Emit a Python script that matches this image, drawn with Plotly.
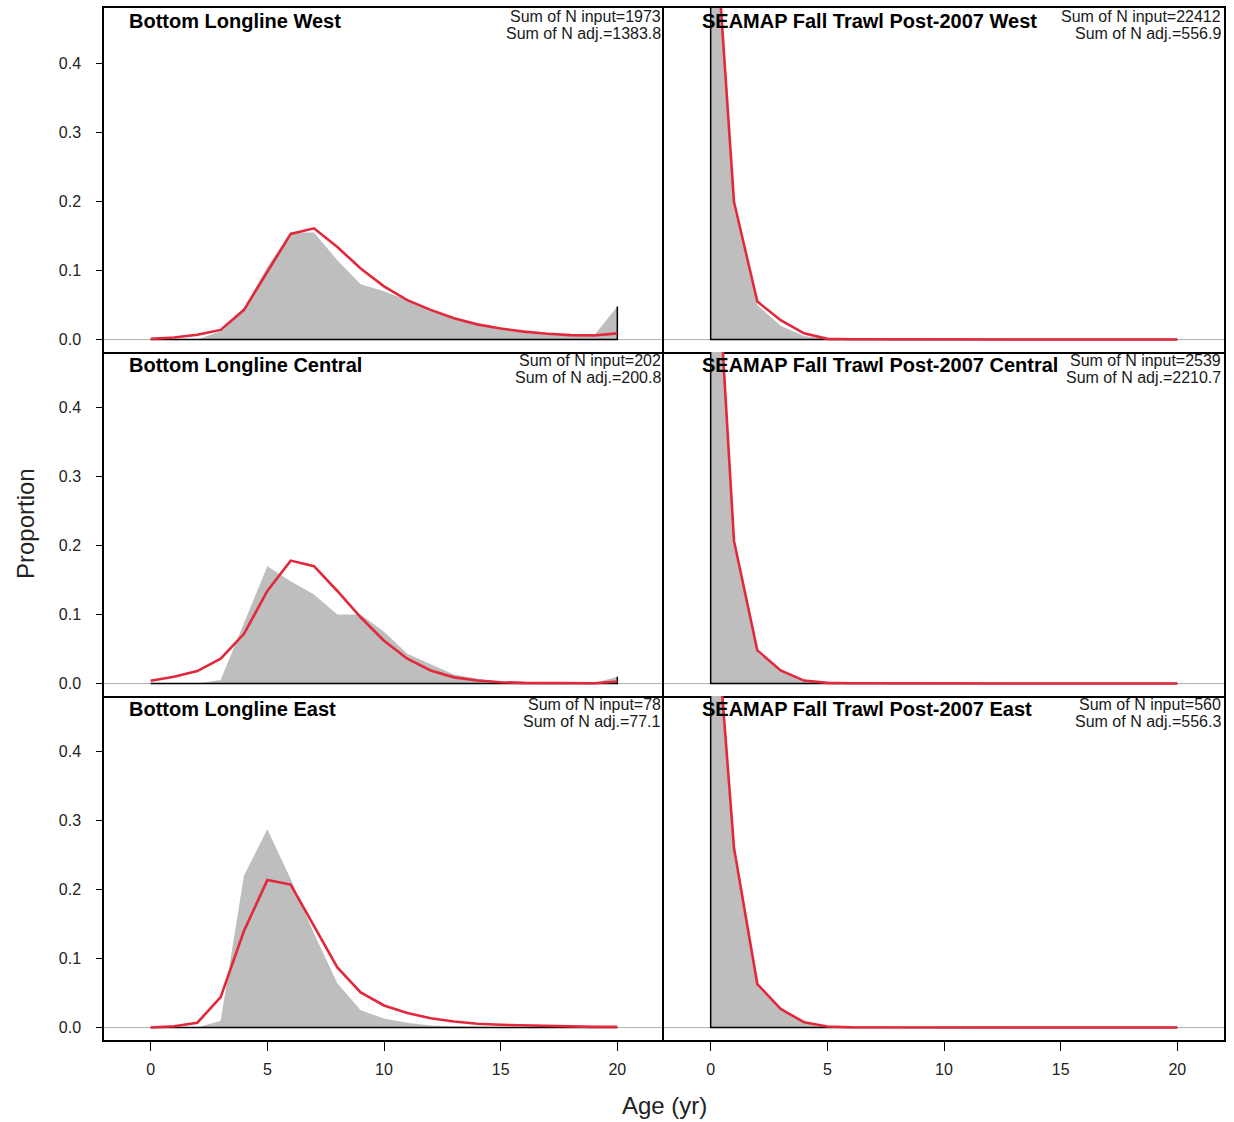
import plotly.graph_objects as go
from plotly.subplots import make_subplots

ages = list(range(21))

titles = [
    "Bottom Longline West", "SEAMAP Fall Trawl Post-2007 West",
    "Bottom Longline Central", "SEAMAP Fall Trawl Post-2007 Central",
    "Bottom Longline East", "SEAMAP Fall Trawl Post-2007 East",
]
n_input = ["1973", "22412", "202", "2539", "78", "560"]
n_adj = ["1383.8", "556.9", "200.8", "2210.7", "77.1", "556.3"]

# observed proportions (grey area)
obs_bll_west = [0, 0, 0, 0.012, 0.045, 0.105, 0.155, 0.155, 0.115, 0.080, 0.070, 0.057,
                0.043, 0.031, 0.022, 0.015, 0.010, 0.007, 0.005, 0.006, 0.048]
obs_sea_west = [0.74, 0.19, 0.050, 0.020, 0.005, 0.001, 0, 0, 0, 0, 0, 0,
                0, 0, 0, 0, 0, 0, 0, 0, 0]
obs_bll_central = [0, 0, 0, 0.005, 0.087, 0.170, 0.148, 0.129, 0.100, 0.100, 0.075, 0.043,
                   0.028, 0.013, 0.007, 0.003, 0.002, 0.001, 0.001, 0.001, 0.010]
obs_sea_central = [0.75, 0.20, 0.045, 0.018, 0.005, 0.001, 0, 0, 0, 0, 0, 0,
                   0, 0, 0, 0, 0, 0, 0, 0, 0]
obs_bll_east = [0, 0, 0, 0.010, 0.220, 0.287, 0.215, 0.136, 0.064, 0.025, 0.013, 0.007,
                0.003, 0.002, 0.001, 0.0005, 0, 0, 0, 0, 0]
obs_sea_east = [0.68, 0.25, 0.060, 0.025, 0.009, 0.002, 0.001, 0, 0, 0, 0, 0,
                0, 0, 0, 0, 0, 0, 0, 0, 0]

# expected proportions (red line)
exp_bll_west = [0.001, 0.003, 0.007, 0.014, 0.043, 0.097, 0.153, 0.161, 0.134, 0.103, 0.077, 0.057,
                0.043, 0.031, 0.022, 0.016, 0.0115, 0.0085, 0.0065, 0.006, 0.009]
exp_sea_west = [0.70, 0.199, 0.055, 0.028, 0.009, 0.001, 0.0005, 0.0003, 0.0002, 0.0001, 0.0001, 0.0001,
                0.0001, 0.0001, 0.0001, 0.0001, 0.0001, 0.0001, 0.0001, 0.0001, 0.0001]
exp_bll_central = [0.004, 0.010, 0.018, 0.036, 0.072, 0.134, 0.178, 0.170, 0.134, 0.096, 0.062, 0.036,
                   0.019, 0.009, 0.0045, 0.002, 0.001, 0.0007, 0.0005, 0.0005, 0.003]
exp_sea_central = [0.78, 0.2065, 0.048, 0.019, 0.0043, 0.001, 0.0005, 0.0003, 0.0002, 0.0001, 0.0001, 0.0001,
                   0.0001, 0.0001, 0.0001, 0.0001, 0.0001, 0.0001, 0.0001, 0.0001, 0.0001]
exp_bll_east = [0, 0.002, 0.007, 0.044, 0.140, 0.2135, 0.207, 0.147, 0.087, 0.051, 0.032, 0.021,
                0.0135, 0.0087, 0.0055, 0.004, 0.003, 0.002, 0.0015, 0.001, 0.001]
exp_sea_east = [0.70, 0.26, 0.063, 0.027, 0.0077, 0.0015, 0.0005, 0.0003, 0.0002, 0.0001, 0.0001, 0.0001,
                0.0001, 0.0001, 0.0001, 0.0001, 0.0001, 0.0001, 0.0001, 0.0001, 0.0001]

observed = [obs_bll_west, obs_sea_west, obs_bll_central, obs_sea_central, obs_bll_east, obs_sea_east]
expected = [exp_bll_west, exp_sea_west, exp_bll_central, exp_sea_central, exp_bll_east, exp_sea_east]

x_ticks = [0, 5, 10, 15, 20]
y_ticks = [0.0, 0.1, 0.2, 0.3, 0.4]
y_ticktext = ["0.0", "0.1", "0.2", "0.3", "0.4"]

FONT = "Liberation Sans, Arial, sans-serif"
GREY = "#bebebe"
RED = "#e2283b"

fig = make_subplots(rows=3, cols=2, horizontal_spacing=0, vertical_spacing=0)

for i in range(6):
    r, c = i // 2 + 1, i % 2 + 1
    obs = observed[i]
    exp = expected[i]
    fig.add_trace(go.Scatter(x=ages, y=obs, mode="lines", fill="tozeroy",
                             fillcolor=GREY, line=dict(width=0, color=GREY),
                             showlegend=False, hoverinfo="skip"), row=r, col=c)
    # black outline along base and end edges of the observed polygon
    fig.add_trace(go.Scatter(x=[ages[0], ages[0], ages[-1], ages[-1]],
                             y=[obs[0], 0, 0, obs[-1]], mode="lines",
                             line=dict(width=1.5, color="black"),
                             showlegend=False, hoverinfo="skip"), row=r, col=c)
    fig.add_trace(go.Scatter(x=ages, y=exp, mode="lines",
                             line=dict(width=2.6, color=RED),
                             showlegend=False), row=r, col=c)
    fig.add_hline(y=0, line=dict(color="#b0b0b0", width=1), layer="below", row=r, col=c)

    n = i + 1
    xd = f"x{'' if n == 1 else n} domain"
    yd = f"y{'' if n == 1 else n} domain"
    tx = 0.041 if c == 1 else 0.064
    fig.add_annotation(text=f"<b>{titles[i]}</b>", xref=xd, yref=yd, x=tx, y=0.962,
                       xanchor="left", yanchor="middle", showarrow=False,
                       font=dict(family=FONT, size=20, color="black"))
    fig.add_annotation(text=f"Sum of N input={n_input[i]}", xref=xd, yref=yd, x=0.998, y=0.974,
                       xanchor="right", yanchor="middle", showarrow=False,
                       font=dict(family=FONT, size=16, color="#1a1a1a"))
    fig.add_annotation(text=f"Sum of N adj.={n_adj[i]}", xref=xd, yref=yd, x=0.998, y=0.927,
                       xanchor="right", yanchor="middle", showarrow=False,
                       font=dict(family=FONT, size=16, color="#1a1a1a"))

    fig.update_xaxes(range=[-2, 22], tickvals=x_ticks, showgrid=False, zeroline=False,
                     showline=True, linecolor="black", linewidth=1.5, mirror=(r == 1),
                     ticks="outside" if r == 3 else "", ticklen=9, tickcolor="black",
                     showticklabels=(r == 3), ticklabelstandoff=5,
                     tickfont=dict(family=FONT, size=16, color="#222"), row=r, col=c)
    fig.update_yaxes(range=[-0.018, 0.48], tickvals=y_ticks, ticktext=y_ticktext,
                     showgrid=False, zeroline=False,
                     showline=True, linecolor="black", linewidth=1.5, mirror=(c == 2),
                     ticks="outside" if c == 1 else "", ticklen=6, tickcolor="black",
                     showticklabels=(c == 1), ticklabelstandoff=12,
                     tickfont=dict(family=FONT, size=16, color="#222"), row=r, col=c)

fig.add_annotation(text="Age (yr)", xref="paper", yref="paper", x=0.5, y=-0.063,
                   xanchor="center", yanchor="middle", showarrow=False,
                   font=dict(family=FONT, size=24, color="#222"))
fig.add_annotation(text="Proportion", xref="paper", yref="paper", x=-0.0705, y=0.5,
                   xanchor="center", yanchor="middle", showarrow=False, textangle=-90,
                   font=dict(family=FONT, size=24, color="#222"))

fig.update_layout(width=1234, height=1122, margin=dict(l=104, r=10, t=6, b=82),
                  plot_bgcolor="white", paper_bgcolor="white", showlegend=False)

fig.write_html("out.html", config={"displayModeBar": False},
               post_script="document.body.style.margin='0';")
